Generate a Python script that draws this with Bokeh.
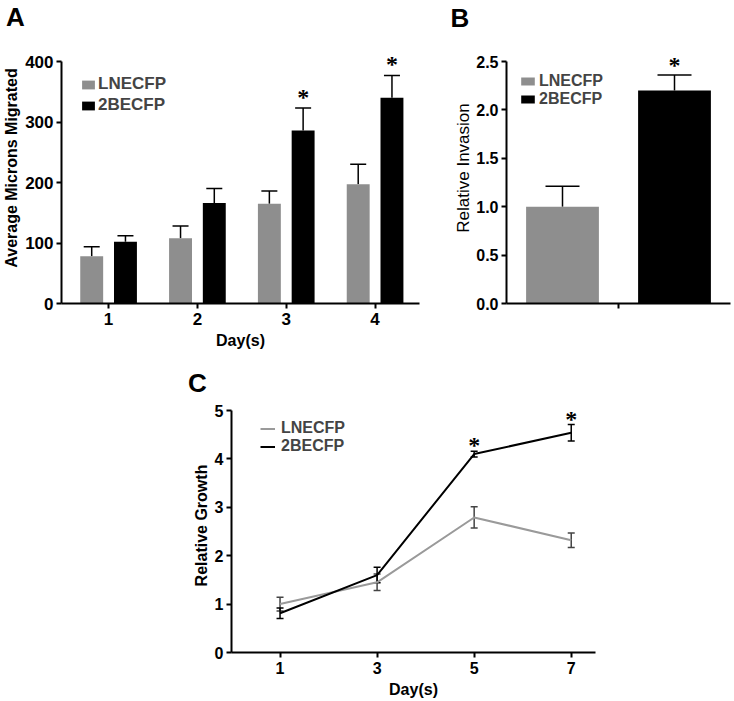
from bokeh.plotting import figure
from bokeh.models import (Range1d, FixedTicker, Whisker, TeeHead, Legend, LegendItem, Label,
                          LabelSet, ColumnDataSource, Spacer, NumeralTickFormatter)
from bokeh.layouts import column, row
from bokeh.transform import dodge
from bokeh.embed import file_html
from bokeh.resources import INLINE

FONT = "Liberation Sans"
GREY = "#8e8e8e"
GREY_LINE = "#9a9a9a"
BLACK = "#000000"

# ---------------- data ----------------
series_names = ["LNECFP", "2BECFP"]

# Panel A: migration
days_a = [1, 2, 3, 4]
lne_a = [78, 108, 165, 197]
lne_a_err = [16, 20, 21, 33]
be_a = [102, 166, 286, 340]
be_a_err = [10, 24, 37, 37]
sig_a = [False, False, True, True]

# Panel B: invasion
pos_b = [0.5, 1.5]
vals_b = [1.0, 2.2]
err_b = [0.21, 0.16]
sig_b = [False, True]

# Panel C: growth
days_c = [1, 3, 5, 7]
lne_c = [1.0, 1.45, 2.79, 2.32]
lne_c_err = [0.14, 0.17, 0.22, 0.15]
be_c = [0.81, 1.60, 4.10, 4.54]
be_c_err = [0.11, 0.16, 0.06, 0.17]
sig_c = [False, False, True, True]

yticks_a = [0, 100, 200, 300, 400]
yticks_b = [0.0, 0.5, 1.0, 1.5, 2.0, 2.5]
yticks_c = [0, 1, 2, 3, 4, 5]

# ---------------- layout constants (pixels) ----------------
W = 734
STRIP_H = 32          # band holding the panel letters A and B
TOP_H = 324           # panels A and B
STRIP_C_H = 42        # band holding the panel letter C
C_TOP = STRIP_H + TOP_H + STRIP_C_H
C_H = 701 - C_TOP
AXIS_TOP = 61         # page y of the 400 / 2.5 tick
AXIS_BOTTOM = 303     # page y of the zero line of A and B
FRAME_H = AXIS_BOTTOM - STRIP_H
C_AXIS_TOP = 410      # page y of the 5 tick in C
C_AXIS_BOTTOM = 652   # page y of the zero line in C


def style(p, tick_size="16px"):
    p.outline_line_color = None
    p.grid.visible = False
    p.min_border = 0
    for ax in p.axis:
        ax.axis_line_width = 2
        ax.axis_line_color = "black"
        ax.major_tick_line_width = 2
        ax.major_tick_line_color = "black"
        ax.major_tick_out = 5
        ax.major_tick_in = 0
        ax.minor_tick_out = 0
        ax.minor_tick_in = 0
        ax.major_label_text_font = FONT
        ax.major_label_text_font_size = tick_size
        ax.major_label_text_font_style = "bold"
        ax.major_label_text_color = "black"
        ax.major_label_standoff = 3
        ax.axis_label_text_font = FONT
        ax.axis_label_text_font_size = "16px"
        ax.axis_label_text_font_style = "bold"
        ax.axis_label_text_color = "black"
        ax.axis_label_standoff = 2
    p.xaxis.major_label_standoff = 4
    p.xaxis.axis_label_standoff = 4


def letter_strip(width, height, letters):
    s = figure(width=width, height=height, x_range=Range1d(0, width), y_range=Range1d(height, 0),
               x_axis_type=None, y_axis_type=None, output_backend="svg",
               toolbar_location=None, tools="")
    s.outline_line_color = None
    s.grid.visible = False
    s.min_border = 0
    for txt, x, y in letters:
        s.add_layout(Label(x=x, y=y, text=txt, text_font=FONT, text_font_size="26px",
                           text_font_style="bold", text_align="center", text_baseline="middle",
                           text_color="black"))
    return s


def stars(p, xs, tops, flags, off):
    sx = [x for x, f in zip(xs, flags) if f]
    sy = [t for t, f in zip(tops, flags) if f]
    src = ColumnDataSource(dict(x=sx, y=sy, t=["*"] * len(sx)))
    p.add_layout(LabelSet(x="x", y="y", text="t", source=src, text_font=FONT,
                          text_font_style="bold", text_font_size="24px", text_align="center",
                          text_baseline="alphabetic", y_offset=off, text_color="black"))


# ---------------- Panel A ----------------
src_a = ColumnDataSource(dict(
    day=days_a, lne=lne_a, lne_top=[v + e for v, e in zip(lne_a, lne_a_err)],
    be=be_a, be_top=[v + e for v, e in zip(be_a, be_a_err)]))

ymax_a = yticks_a[-1] * FRAME_H / (AXIS_BOTTOM - AXIS_TOP)
pa = figure(width=442, height=TOP_H, x_range=Range1d(0.47, 4.5), y_range=Range1d(0, ymax_a),
            output_backend="svg", toolbar_location=None, tools="")
style(pa, "17px")
pa.min_border_left = 60
pa.min_border_right = 23
pa.min_border_top = 0
pa.min_border_bottom = TOP_H - FRAME_H
ra1 = pa.vbar(x=dodge("day", -0.19, range=pa.x_range), top="lne", width=0.258, source=src_a,
              fill_color=GREY, line_color=None)
ra2 = pa.vbar(x=dodge("day", 0.19, range=pa.x_range), top="be", width=0.258, source=src_a,
              fill_color=BLACK, line_color=None)
pa.add_layout(Whisker(base=dodge("day", -0.19, range=pa.x_range), lower="lne", upper="lne_top",
                      source=src_a, line_color=BLACK, line_width=1.5,
                      upper_head=TeeHead(size=16, line_width=1.5, line_color=BLACK), lower_head=None))
pa.add_layout(Whisker(base=dodge("day", 0.19, range=pa.x_range), lower="be", upper="be_top",
                      source=src_a, line_color=BLACK, line_width=1.5,
                      upper_head=TeeHead(size=16, line_width=1.5, line_color=BLACK), lower_head=None))
stars(pa, [d + 0.19 for d in days_a], src_a.data["be_top"], sig_a, 3)
pa.xaxis.ticker = FixedTicker(ticks=days_a)
pa.yaxis.ticker = FixedTicker(ticks=yticks_a)
pa.yaxis.bounds = (yticks_a[0], yticks_a[-1])
pa.xaxis.axis_label = "Day(s)"
pa.yaxis.axis_label = "Average Microns Migrated"
leg_a = Legend(items=[LegendItem(label=series_names[0], renderers=[ra1]),
                      LegendItem(label=series_names[1], renderers=[ra2])],
               location=(19, 188), margin=0, padding=0, spacing=1,
               glyph_width=16, glyph_height=11, label_height=19, label_standoff=2,
               label_text_font=FONT, label_text_font_size="17px", label_text_font_style="bold",
               border_line_color=None, background_fill_alpha=0)
pa.add_layout(leg_a)

# ---------------- Panel B ----------------
src_b = ColumnDataSource(dict(x=pos_b, v=vals_b, top=[v + e for v, e in zip(vals_b, err_b)]))
ymax_b = yticks_b[-1] * FRAME_H / (AXIS_BOTTOM - AXIS_TOP)
pb = figure(width=W - 442, height=TOP_H, x_range=Range1d(0, 2), y_range=Range1d(0, ymax_b),
            output_backend="svg", toolbar_location=None, tools="")
style(pb)
pb.min_border_left = 64
pb.min_border_right = 4
pb.min_border_top = 0
pb.min_border_bottom = TOP_H - FRAME_H
rb1 = pb.vbar(x=pos_b[0], top=vals_b[0], width=0.65, fill_color=GREY, line_color=None)
rb2 = pb.vbar(x=pos_b[1], top=vals_b[1], width=0.65, fill_color=BLACK, line_color=None)
pb.add_layout(Whisker(base="x", lower="v", upper="top", source=src_b, line_color=BLACK,
                      line_width=1.5,
                      upper_head=TeeHead(size=34, line_width=1.5, line_color=BLACK), lower_head=None))
stars(pb, pos_b, src_b.data["top"], sig_b, 2)
pb.xaxis.ticker = FixedTicker(ticks=[1])
pb.xaxis.major_label_overrides = {1: ""}
pb.yaxis.ticker = FixedTicker(ticks=yticks_b)
pb.yaxis.bounds = (yticks_b[0], yticks_b[-1])
pb.yaxis.formatter = NumeralTickFormatter(format="0.0")
pb.yaxis.axis_label = "Relative Invasion"
pb.yaxis.axis_label_text_font_style = "normal"
pb.yaxis.axis_label_text_font_size = "17px"
pb.yaxis.axis_label_standoff = 0
leg_b = Legend(items=[LegendItem(label=series_names[0], renderers=[rb1]),
                      LegendItem(label=series_names[1], renderers=[rb2])],
               location=(13, 195), margin=0, padding=0, spacing=0,
               glyph_width=17, glyph_height=10, label_height=17, label_standoff=3,
               label_text_font=FONT, label_text_font_size="16px", label_text_font_style="bold",
               border_line_color=None, background_fill_alpha=0)
pb.add_layout(leg_b)

# ---------------- Panel C ----------------
src_c = ColumnDataSource(dict(
    day=days_c, lne=lne_c, lne_lo=[v - e for v, e in zip(lne_c, lne_c_err)],
    lne_hi=[v + e for v, e in zip(lne_c, lne_c_err)],
    be=be_c, be_lo=[v - e for v, e in zip(be_c, be_c_err)],
    be_hi=[v + e for v, e in zip(be_c, be_c_err)]))
ymax_c = yticks_c[-1] * (C_AXIS_BOTTOM - C_TOP) / (C_AXIS_BOTTOM - C_AXIS_TOP)
pc = figure(width=450, height=C_H, x_range=Range1d(0, 7.5), y_range=Range1d(0, ymax_c),
            output_backend="svg", toolbar_location=None, tools="")
style(pc)
pc.min_border_left = 71
pc.min_border_right = 15
pc.min_border_top = 0
pc.min_border_bottom = 701 - C_AXIS_BOTTOM
rc1 = pc.line("day", "lne", source=src_c, line_color=GREY_LINE, line_width=2)
rc2 = pc.line("day", "be", source=src_c, line_color=BLACK, line_width=2)
pc.add_layout(Whisker(base="day", lower="lne_lo", upper="lne_hi", source=src_c,
                      line_color="#444444", line_width=1.5,
                      upper_head=TeeHead(size=7, line_width=1.5, line_color="#444444"),
                      lower_head=TeeHead(size=7, line_width=1.5, line_color="#444444")))
pc.add_layout(Whisker(base="day", lower="be_lo", upper="be_hi", source=src_c,
                      line_color=BLACK, line_width=1.5,
                      upper_head=TeeHead(size=7, line_width=1.5, line_color=BLACK),
                      lower_head=TeeHead(size=7, line_width=1.5, line_color=BLACK)))
stars(pc, days_c, src_c.data["be_hi"], sig_c, -2)
pc.xaxis.ticker = FixedTicker(ticks=days_c)
pc.yaxis.ticker = FixedTicker(ticks=yticks_c)
pc.yaxis.bounds = (yticks_c[0], yticks_c[-1])
pc.xaxis.axis_label = "Day(s)"
pc.yaxis.axis_label = "Relative Growth"
leg_c = Legend(items=[LegendItem(label=series_names[0], renderers=[rc1]),
                      LegendItem(label=series_names[1], renderers=[rc2])],
               location=(29, 197), margin=0, padding=0, spacing=0,
               glyph_width=15, glyph_height=17, label_height=17, label_standoff=6,
               label_text_font=FONT, label_text_font_size="16px", label_text_font_style="bold",
               border_line_color=None, background_fill_alpha=0)
pc.add_layout(leg_c)

# ---------------- panel letters ----------------
strip_ab = letter_strip(W, STRIP_H, [("A", 15, 16), ("B", 459.5, 17)])
strip_c = letter_strip(450, STRIP_C_H, [("C", 37, 382 - STRIP_H - TOP_H)])

layout = column(strip_ab,
                row(pa, pb),
                row(Spacer(width=160, height=STRIP_C_H), strip_c),
                row(Spacer(width=160, height=C_H), pc))

open("out.html", "w").write(file_html(layout, INLINE))
